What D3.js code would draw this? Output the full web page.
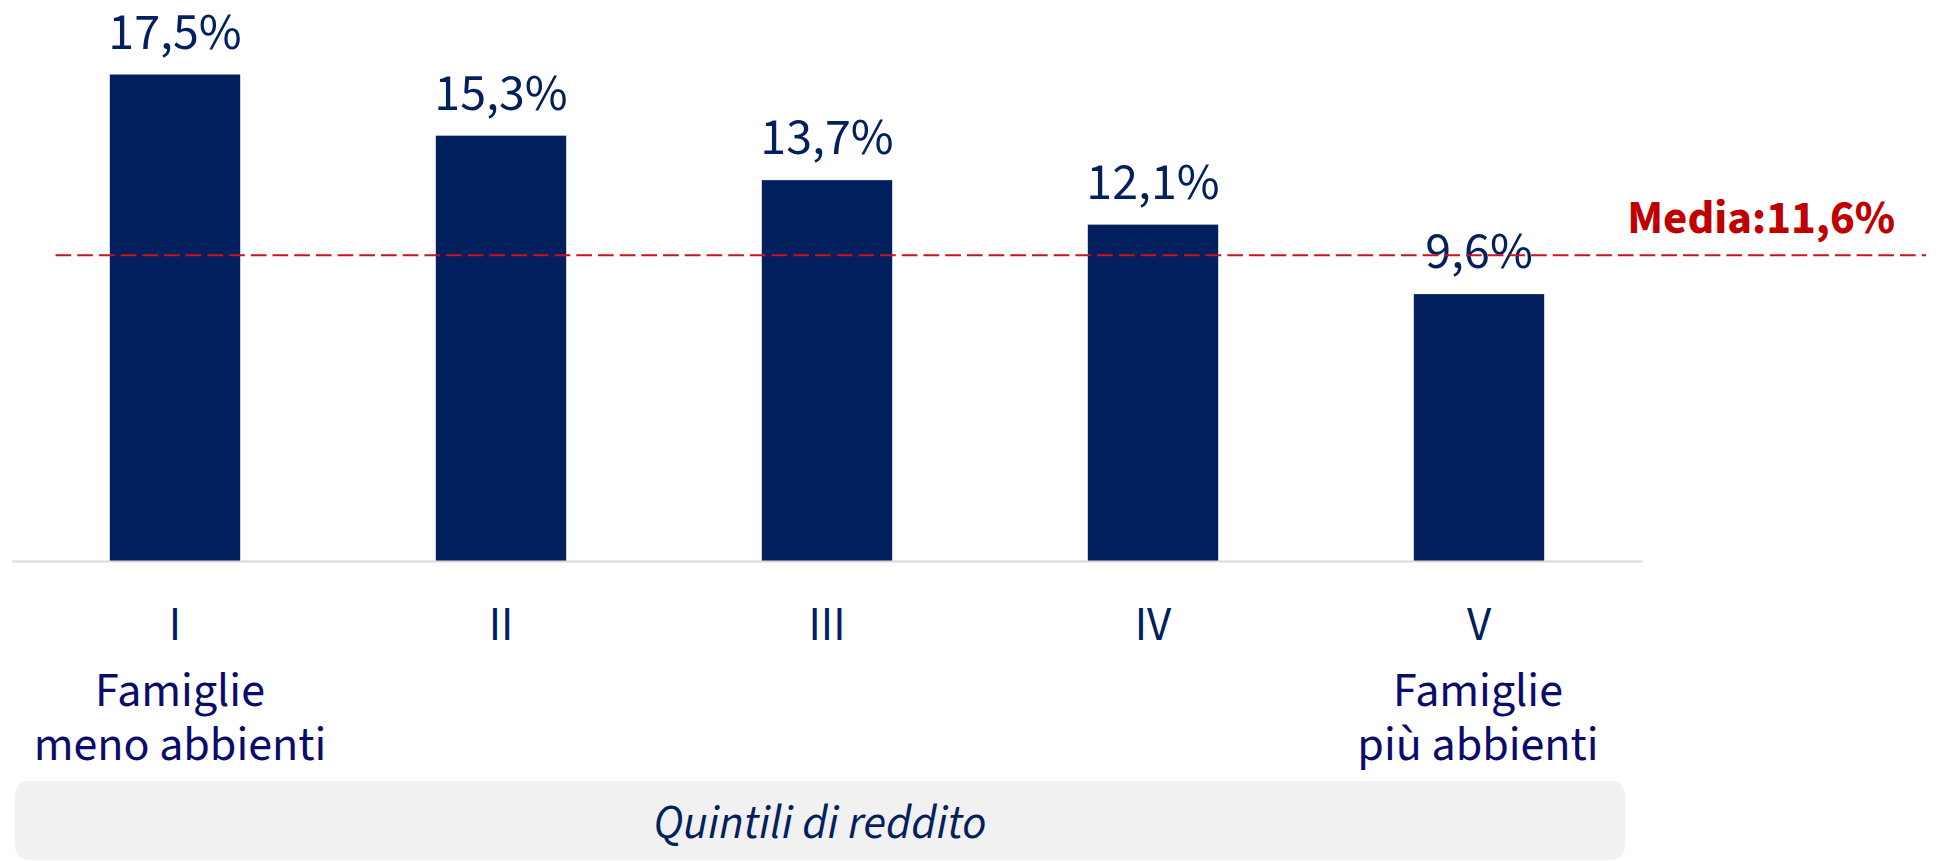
<!DOCTYPE html>
<html>
<head>
<meta charset="utf-8">
<script src="https://cdn.jsdelivr.net/npm/d3@7"></script>
<style>
  html, body { margin: 0; padding: 0; background: #ffffff; }
  svg { display: block; }
  text { font-family: "Source Sans Pro", "Source Sans 3", "Open Sans", Lato, sans-serif; }
</style>
</head>
<body>
<svg id="chart" width="1936" height="861"></svg>
<script>
// ---- data ----
const categories = ["I", "II", "III", "IV", "V"];
const values = [17.5, 15.3, 13.7, 12.1, 9.6];
const valueLabels = ["17,5%", "15,3%", "13,7%", "12,1%", "9,6%"];
const subLabels = [["Famiglie", "meno abbienti"], [], [], [], ["Famiglie", "più abbienti"]];
const mediaLabel = "Media:11,6%";
const mediaLineValue = 11.0;   // where the dashed reference line sits on the bar scale in the reference
const axisTitle = "Quintili di reddito";

// ---- setup ----
const W = 1936, H = 861;
const svg = d3.select("#chart");
const barColor = "#021f5e";
const textNavy = "#021f5e";
const labelNavy = "#0b0b6b";
const red = "#c8141c";

const x = d3.scaleBand()
  .domain(categories)
  .range([12, 1642])
  .paddingInner(0.6)
  .paddingOuter(0.3);

const y = d3.scaleLinear()
  .domain([0, 20])
  .range([561, 5]);

// bars
svg.append("g").selectAll("rect")
  .data(values)
  .join("rect")
  .attr("x", (d, i) => x(categories[i]))
  .attr("y", d => y(d))
  .attr("width", x.bandwidth())
  .attr("height", d => y(0) - y(d))
  .attr("fill", barColor);

// x axis
const axis = svg.append("g")
  .attr("transform", `translate(0,${y(0)})`)
  .call(d3.axisBottom(x).tickSize(0).tickSizeOuter(0));
axis.select(".domain").attr("stroke", "#d9d9d9").attr("stroke-width", 2);
axis.selectAll(".tick text")
  .attr("y", 79)
  .attr("dy", 0)
  .attr("fill", textNavy)
  .style("font-size", "47px")
  .style("font-family", null);

// sub labels under I and V
const sub = svg.append("g");
subLabels.forEach((lines, i) => {
  lines.forEach((t, j) => {
    sub.append("text")
      .attr("x", x(categories[i]) + x.bandwidth() / 2 + (i === 0 ? 5 : -1))
      .attr("y", 706 + j * 54)
      .attr("text-anchor", "middle")
      .attr("fill", labelNavy)
      .style("font-size", "48px")
      .text(t);
  });
});

// value labels
svg.append("g").selectAll("text")
  .data(values)
  .join("text")
  .attr("x", (d, i) => x(categories[i]) + x.bandwidth() / 2)
  .attr("y", d => y(d) - 26)
  .attr("text-anchor", "middle")
  .attr("fill", textNavy)
  .style("font-size", "52px")
  .text((d, i) => valueLabels[i]);

// dashed mean line
svg.append("line")
  .attr("x1", 55.5)
  .attr("x2", 1926)
  .attr("y1", y(mediaLineValue))
  .attr("y2", y(mediaLineValue))
  .attr("stroke", red)
  .attr("stroke-width", 2)
  .attr("stroke-dasharray", "15.7,6");

svg.append("text")
  .attr("x", 1895)
  .attr("y", 233)
  .attr("text-anchor", "end")
  .attr("fill", "#c00000")
  .style("font-size", "47px")
  .style("font-weight", "bold")
  .text(mediaLabel);

// axis title box
svg.append("rect")
  .attr("x", 15)
  .attr("y", 781)
  .attr("width", 1610)
  .attr("height", 79)
  .attr("rx", 14)
  .attr("fill", "#f1f1f1");

svg.append("text")
  .attr("x", 820)
  .attr("y", 838)
  .attr("text-anchor", "middle")
  .attr("fill", textNavy)
  .style("font-size", "47px")
  .style("font-style", "italic")
  .text(axisTitle);
</script>
</body>
</html>
